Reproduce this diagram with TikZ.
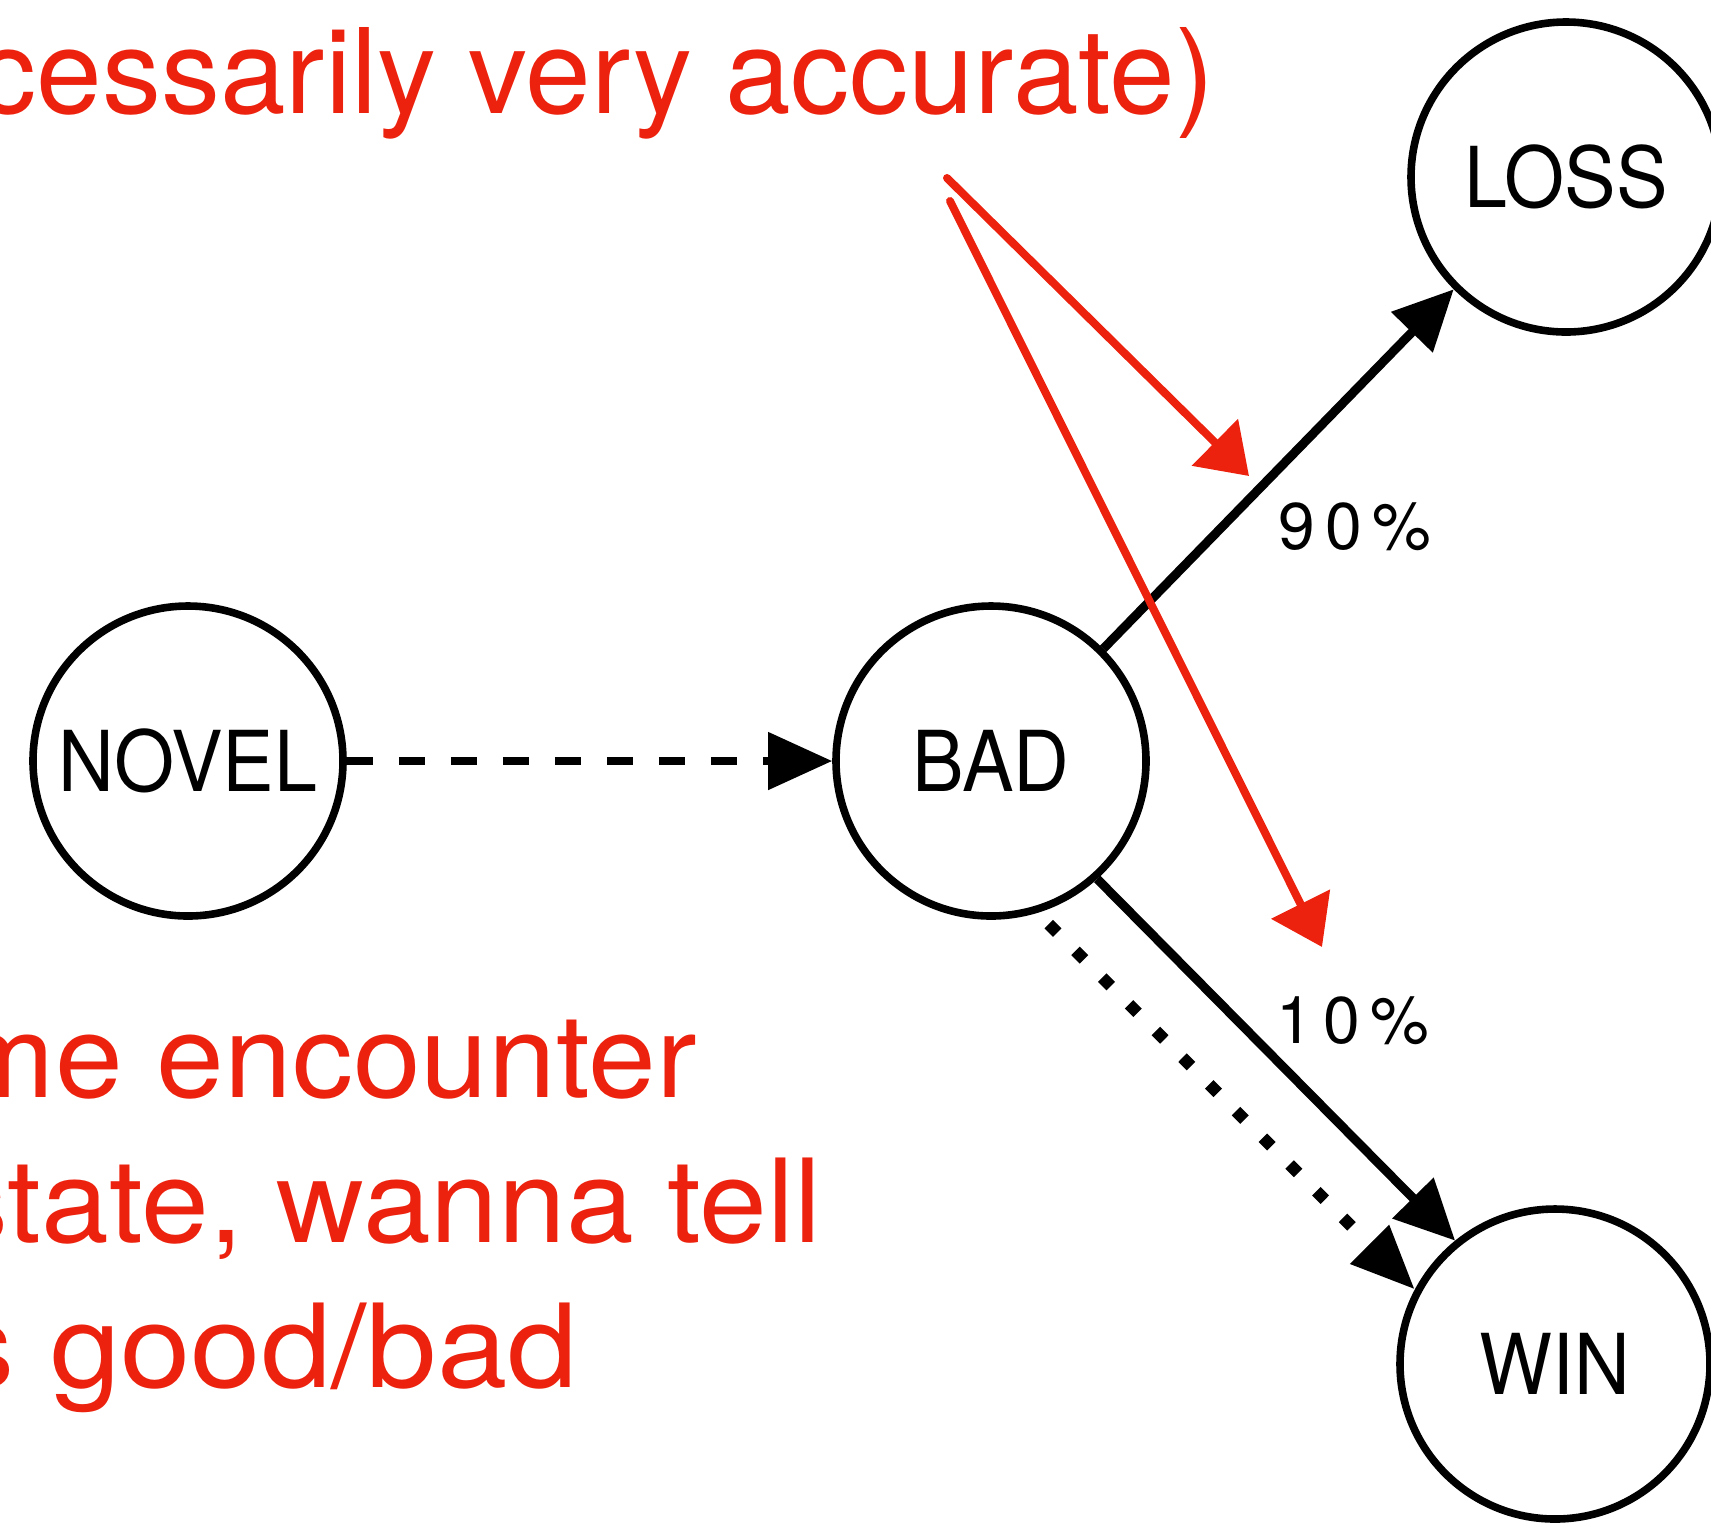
\documentclass[tikz,border=0pt]{standalone}
\usepackage{fontspec}
\setmainfont{TeX Gyre Heros}
\newfontfamily\nodefont[FakeStretch=0.92]{TeX Gyre Heros}
\newfontfamily\pctfont[LetterSpace=16]{TeX Gyre Heros}
\newfontfamily\notefont[FakeStretch=1.05]{TeX Gyre Heros}
\newfontfamily\widenotefont[FakeStretch=1.09]{TeX Gyre Heros}
\usetikzlibrary{arrows.meta}
\definecolor{annot}{RGB}{236,34,14}
\begin{document}
\begin{tikzpicture}[x=0.5pt,y=-0.5pt,
  statenode/.style={circle, draw, line width=3.8pt, minimum size=155pt, inner sep=0pt,
    font=\nodefont\fontsize{42}{42}\selectfont},
  solidarrow/.style={line width=4.5pt, -{Triangle[length=30pt,width=28pt]}},
  dasharrow/.style={line width=4pt, dash pattern=on 13pt off 13pt, -{Triangle[length=32pt,width=28pt]}},
  dotarrow/.style={line width=6pt, dash pattern=on 6pt off 12.9pt, -{Triangle[length=32pt,width=26pt]}},
  redarrow/.style={draw=annot, line width=4pt, line cap=round, -{Triangle[length=24pt,width=32pt]}},
  pct/.style={anchor=base west, inner sep=0pt, font=\pctfont\fontsize{33}{33}\selectfont},
  redtext/.style={anchor=base east, inner sep=0pt, text=annot, font=\notefont\fontsize{58}{58}\selectfont}
]
\useasboundingbox (0,0) rectangle (1711,1523);

% states
\node[statenode] (novel) at (188,761) {NOVEL};
\node[statenode] (bad)   at (991,761) {BAD};
\node[statenode] (loss)  at (1566,177) {LOSS};
\node[statenode] (win)   at (1555,1364) {WIN};

% transitions
\draw[dasharrow] (novel.east) -- (bad.west);
\draw[solidarrow] (bad.45) -- (loss.225);
\draw[solidarrow] (bad.-48) -- (win.129);
\draw[dotarrow, shorten <=8pt] (bad.-73) -- (win.152);

% probabilities
\node[pct] (p90) at (1278,549) {90\%};
\node[pct] (p10) at (1276,1043) {10\%};

% red annotations
\node[redtext, font=\fontsize{59}{59}\selectfont] (top) at (1215,113) {cessarily very accurate)};
\node[redtext] (l1) at (697,1097) {me encounter};
\node[redtext] (l2) at (822,1242) {state, wanna tell};
\node[redtext, font=\widenotefont\fontsize{58}{58}\selectfont] (l3) at (578,1387) {s good/bad};

\coordinate (r1s) at (947,178);
\coordinate (r1e) at (1249,476);
\coordinate (r2s) at (950,201);
\coordinate (r2e) at (1322,947);
\draw[redarrow] (r1s) -- (r1e);
\draw[redarrow] (r2s) -- (r2e);
\end{tikzpicture}
\end{document}
